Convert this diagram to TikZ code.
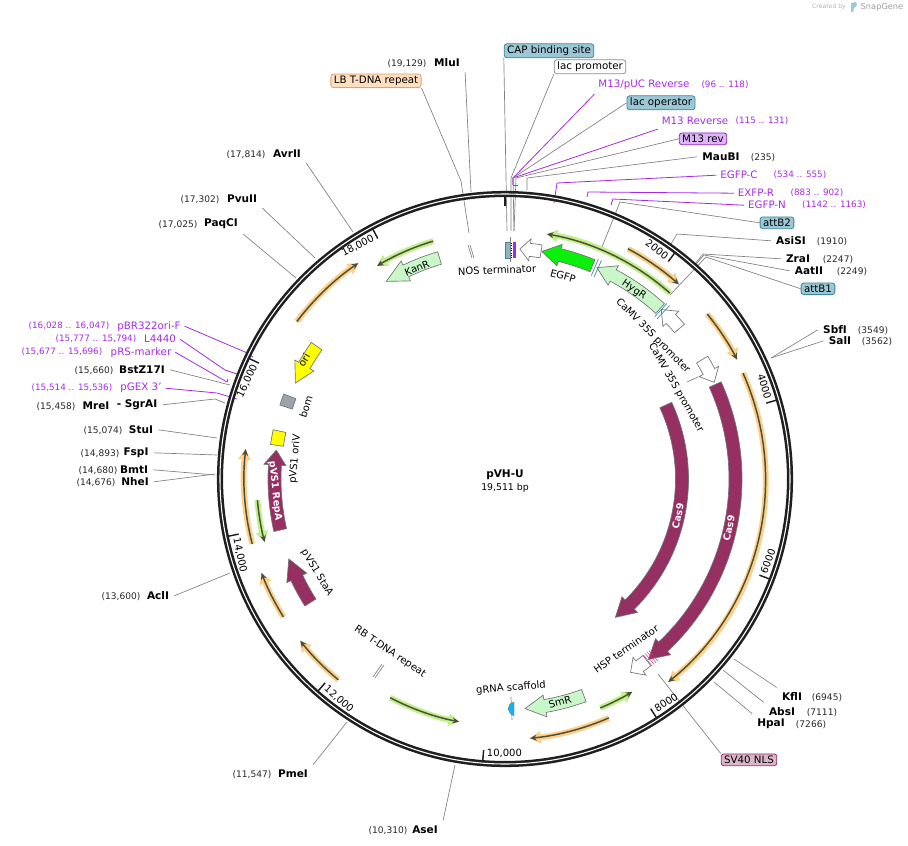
\documentclass[tikz,border=0pt]{standalone}
\usepackage{fontspec}
\setmainfont{DejaVu Sans}
\usepackage{xcolor}
\usetikzlibrary{arrows.meta}
\definecolor{primer}{HTML}{A52AE8}
\definecolor{leadgray}{HTML}{808080}
\definecolor{tealbox}{HTML}{9CC8D6}
\definecolor{tealedge}{HTML}{3F8498}
\definecolor{cas}{HTML}{962F62}
\definecolor{resist}{HTML}{C9F7C9}
\definecolor{egfpgreen}{HTML}{0CEE0C}
\definecolor{orihl}{HTML}{FFFF00}
\definecolor{orfamber}{HTML}{FDD08A}
\definecolor{orfgreen}{HTML}{BFF08C}
\definecolor{orfdark}{HTML}{4E4E34}
\definecolor{bomgray}{HTML}{9AA4AE}
\definecolor{grnablue}{HTML}{14B4F0}
\tikzset{
  sitename/.style={font=\fontsize{7.9}{9}\selectfont\bfseries, inner sep=1pt, outer sep=3pt, yshift=-.6pt},
  sitepos/.style={font=\fontsize{6.8}{9}\selectfont, text=black!85, inner sep=1pt, yshift=-.9pt},
  primername/.style={font=\fontsize{7.7}{9}\selectfont, text=primer, inner sep=1pt, outer sep=2pt, yshift=-.9pt},
  primerpos/.style={font=\fontsize{6.6}{9}\selectfont, text=primer, inner sep=1pt, yshift=-.9pt},
  featbox/.style={draw, rounded corners=2pt, font=\fontsize{7.7}{9}\selectfont, inner ysep=1.5pt, inner xsep=2.2pt, line width=.6pt, yshift=-.6pt},
  featlabel/.style={font=\fontsize{7.5}{9}\selectfont, inner sep=1pt},
  leader/.style={draw=leadgray, line width=.5pt},
  primerline/.style={draw=primer, line width=.6pt},
  blockarrow/.style={draw=black!55, line width=.5pt},
}
\begin{document}
\begin{tikzpicture}[x=.75pt, y=-.75pt]
    \useasboundingbox (0,0) rectangle (908,846);

    % Watermark
    \node[font=\fontsize{4.6}{6}\selectfont, text=black!30, inner sep=0pt] (wmcreated) at (829,7) {Created by};
    \node[font=\fontsize{6.2}{8}\selectfont, text=black!38, inner sep=0pt] (wmsnap) at (882,7) {SnapGene};
    \fill[tealbox] (851,3) -- (856,2) .. controls (858,5) and (856,8) .. (854,8) -- (853,12) -- (851,12) -- cycle;

    % Restriction sites
    \foreach \nm/\x/\y/\px/\pos/\anc/\kx/\ky/\ex/\ey in {%
        MluI/447/62/407/{(19,129)}/south east/471/192/471/192,
        AvrII/287/153/246/{(17,814)}/south east/353/232/353/232,
        PvuII/242/198/200/{(17,302)}/south east/315/258/315/258,
        PaqCI/221/223/178/{(17,025)}/south east/296/278/296/278,
        BstZ17I/142/369/94/{(15,660)}/east/230/385/230/385,
        StuI/141/429/103/{(15,074)}/east/217/438/217/438,
        FspI/136/452/100/{(14,893)}/east/217/455/217/455,
        BmtI/134/469/98/{(14,680)}/east/203/474/215/475,
        NheI/135/481/96/{(14,676)}/east/215/474/215/474,
        AclI/158/595/121/{(13,600)}/east/230/573/230/573,
        PmeI/293/773/252/{(11,547)}/north east/347/722/347/722,
        AseI/425/829/388/{(10,310)}/north east/455/765/455/765,
        MauBI/721/156/763/{(235)}/west/527/178/527/190,
        AsiSI/791/240/832/{(1910)}/west/677/234/671/244,
        ZraI/798/258/838/{(2247)}/west/703/254/695/264,
        AatII/809/270/852/{(2249)}/west/704/255/696/264,
        SbfI/835/329/873/{(3549)}/west/771/358/771/358,
        SalI/840/340/877/{(3562)}/west/771/358/771/358,
        KflI/792/696/827/{(6945)}/north west/734/659/734/659,
        AbsI/782/711/822/{(7111)}/north west/723/670/723/670,
        HpaI/771/723/811/{(7266)}/north west/714/682/714/682} {
      \node[sitename] (\nm) at (\x,\y) {\nm};
      \node[sitepos] (\nm-pos) at (\px,\y) {\pos};
      \coordinate (\nm-knee) at (\kx,\ky);
      \coordinate (\nm-end) at (\ex,\ey);
      \draw[leader] (\nm.\anc) -- (\nm-knee) -- (\nm-end);
    }
    \node[sitename] (MreI) at (96,405) {MreI};
    \node[sitepos] (MreI-pos) at (56,405) {(15,458)};
    \node[sitename] (SgrAI) at (137,404) {- SgrAI};
    \coordinate (SgrAI-knee) at (215,399);
    \coordinate (SgrAI-end) at (225,403);
    \draw[leader] (SgrAI.east) -- (SgrAI-knee) -- (SgrAI-end);

    % Primers
    \foreach \id/\txt/\x/\y/\px/\pos/\anc/\kx/\ky/\ex/\ey in {%
        pucrev/{M13/pUC Reverse}/644/84/725/{(96 .. 118)}/south west/513/178/513/185,
        mrevp/{M13 Reverse}/695/120/762/{(115 .. 131)}/south west/513/178/513/185,
        egfpc/EGFP-C/739/174/800/{(534 .. 555)}/west/557/183/554/203,
        exfpr/EXFP-R/756/192/817/{(883 .. 902)}/west/588/192/587/197,
        egfpn/EGFP-N/767/204/834/{(1142 .. 1163)}/west/613/199/611/205,
        pgex/{pGEX 3'}/141/387/72/{(15,514 .. 15,536)}/east/217/393/237/399,
        prs/pRS-marker/141/351/62/{(15,677 .. 15,696)}/east/227/382/228/379,
        lfour/L4440/160/338/96/{(15,777 .. 15,794)}/east/225/370/237/374,
        pbr/pBR322ori-F/149/325/69/{(16,028 .. 16,047)}/east/245/352/253/357} {
      \node[primername] (\id) at (\x,\y) {\txt};
      \node[primerpos] (\id-pos) at (\px,\y) {\pos};
      \coordinate (\id-knee) at (\kx,\ky);
      \coordinate (\id-end) at (\ex,\ey);
      \draw[primerline] (\id.\anc) -- (\id-knee) -- (\id-end);
    }
    \coordinate (hook) at (518,185);
    \draw[primerline] (pucrev-end) -- (hook);

    % Boxed features and their leaders
    \node[featbox, fill=tealbox, draw=tealedge] (cap) at (549,50) {CAP binding site};
    \node[featbox, fill=white, draw=black!45] (lacprom) at (590,66) {lac promoter};
    \node[featbox, fill=tealbox, draw=tealedge] (lacop) at (661,102) {lac operator};
    \node[featbox, fill=primer!35, draw=primer!85!black] (mrev) at (703,138) {M13 rev};
    \node[featbox, fill=tealbox, draw=tealedge] (attbtwo) at (777,222) {attB2};
    \node[featbox, fill=tealbox, draw=tealedge] (attbone) at (818,288) {attB1};
    \node[featbox, fill=orange!25, draw=brown!70] (lbrepeat) at (376,80) {LB T-DNA repeat};
    \node[featbox, fill=cas!35, draw=cas] (svnls) at (749,759) {SV40 NLS};
    \coordinate (capend) at (507,231);
    \coordinate (lackneeA) at (511,178);
    \coordinate (lacendA) at (511,231);
    \coordinate (lackneeB) at (513,178);
    \coordinate (lacendB) at (514,231);
    \coordinate (mrevknee) at (516,178);
    \coordinate (attbtwoknee) at (620,202);
    \coordinate (attbtwoend) at (602,247);
    \coordinate (attboneknee) at (706,257);
    \coordinate (attboneend) at (670,295);
    \coordinate (lbknee) at (461,181);
    \coordinate (lbend) at (469,233);
    \coordinate (svend) at (658,674);
    \draw[leader] (cap.south west) -- (capend);
    \draw[leader] (lacprom.south west) -- (lackneeA) -- (lacendA);
    \draw[leader] (lacop.west) -- (lackneeB) -- (lacendB);
    \draw[leader] (mrev.west) -- (mrevknee) -- (lacendB);
    \draw[leader] (attbtwo.west) -- (attbtwoknee) -- (attbtwoend);
    \draw[leader] (attbone.west) -- (attboneknee) -- (attboneend);
    \draw[leader] (lbrepeat.south east) -- (lbknee) -- (lbend);
    \draw[leader] (svnls.north west) -- (svend);

    % Plasmid ring, ticks and everything that follows the circle
    \begin{scope}[shift={(505,479)}, y=.75pt]
      \draw[line width=4.6pt, black!88] (0,0) circle (285);
      \draw[line width=.8pt, white] (0,0) circle (285);
      \draw[line width=2pt, black!88] (90:283) -- (90:273);

      \foreach \kb/\txt/\rot/\anc in {%
          2/2000/-36.9/east, 4/4000/-73.8/east, 6/6000/69.3/west,
          8/8000/32.4/west, 10/{10,000}/0/west, 12/{12,000}/-41.4/west,
          14/{14,000}/-78.2/west, 16/{16,000}/64.8/east, 18/{18,000}/27.9/east} {
        \pgfmathsetmacro{\ang}{90-\kb*18.4511}
        \draw[line width=1.1pt, black!88] (\ang:283) -- (\ang:272);
        \node[featlabel, rotate=\rot, anchor=\anc, inner sep=2.5pt] (tick\kb) at (\ang:275) {\txt};
      }

      % Thin open reading frames
      \foreach \r/\st/\en/\col in {%
          248.5/48.4/80.3/orfgreen, 248.5/106.8/121/orfgreen, 261/142.9/124.2/orfamber,
          261/61.9/48.2/orfamber, 261/39.2/27.2/orfamber, 260.5/24/-51.2/orfamber,
          260.5/-66.5/-84.5/orfamber, 248/-67.4/-59.1/orfgreen, 247/-117.7/-100.7/orfgreen,
          261/-129.7/-141.7/orfamber, 261/-148.1/-158.9/orfamber, 261/-165.6/-186.6/orfamber,
          248.5/-175.1/-165.3/orfgreen} {
        \draw[\col, line width=4.4pt, -{Triangle[length=8pt,width=9pt]}] (\st:\r) arc[start angle=\st, end angle=\en, radius=\r];
        \draw[orfdark, line width=1.1pt, -{Stealth[length=5pt,width=4.5pt]}] (\st:\r) arc[start angle=\st, end angle=\en, radius=\r];
      }

      % Block arrows
      \foreach \ri/\ro/\ta/\hb/\tp/\fc in {%
          224/237/106.5/115.5/121/resist, 224/237/67.7/76.3/80.8/egfpgreen,
          224/237/47.7/62/66.5/resist, 224/237/40.8/44/47.3/white,
          224/237/81/83.8/86.3/white, 224/237/31.2/27.8/24.8/white,
          224/237/24.2/-46.7/-51.5/cas, 170.5/183.5/24.7/-45.2/-51.4/cas,
          224/237/-70/-80/-85/resist, 224/237/-52/-54.3/-57/white,
          224/237/144.8/150.5/155.4/orihl, 224/237/-167.2/-183.5/-187.2/cas,
          224/237/-147.6/-154.6/-159.7/cas} {
        \pgfmathsetmacro{\rf}{\ro+4.5}
        \pgfmathsetmacro{\rg}{\ri-4.5}
        \pgfmathsetmacro{\rmid}{(\ro+\ri)/2}
        \draw[blockarrow, fill=\fc] (\ta:\ro) arc[start angle=\ta, end angle=\hb, radius=\ro] -- (\hb:\rf) -- (\tp:\rmid) -- (\hb:\rg) -- (\hb:\ri) arc[start angle=\hb, end angle=\ta, radius=\ri] -- cycle;
      }

      % Short boxed features
      \foreach \ta/\tb/\fc in {159/161.8/bomgray, 168/171.6/orihl} {
        \draw[blockarrow, fill=\fc] (\ta:237) arc[start angle=\ta, end angle=\tb, radius=237] -- (\tb:224) arc[start angle=\tb, end angle=\ta, radius=224] -- cycle;
      }

      % Site markers at the ends of the arrows
      \foreach \ang in {67,66.2,47.3,46.5} {
        \draw[tealedge, line width=.5pt] (\ang:221) -- (\ang:239);
      }
      \foreach \ang in {-51.8,-51.2,-50.6,-50} {
        \draw[magenta!55!cas, line width=.35pt] (\ang:224) -- (\ang:238);
      }
    \end{scope}

    % Features drawn straight
    \draw[draw=tealedge, fill=tealbox!75!tealedge] (505,242) rectangle (510,258);
    \fill[primer] (513,242) rectangle (516,258);
    \draw[line width=.8pt, densely dotted] (511.5,243) -- (511.5,258);
    \draw[leader] (510,237) -- (510,262);
    \draw[leader] (468,245) -- (472,258);
    \draw[leader] (470,245) -- (474,258);
    \draw[leader] (373,677) -- (382,664);
    \draw[leader] (375,678) -- (384,665);
    \draw[leader] (511,697) -- (512,720);
    \draw[draw=black!55, fill=grnablue, line width=.3pt] (514,702) -- (514,716) -- (510,713) -- (508,709) -- (510,704) -- cycle;

    % Texts along the features
    \node[featlabel, rotate=22] (kanlabel) at (417,268) {KanR};
    \node[featlabel, rotate=-34] (hyglabel) at (634,290) {HygR};
    \node[featlabel, rotate=15] (smrlabel) at (560,702) {SmR};
    \node[featlabel, rotate=60] (orilabel) at (304,360) {ori};
    \node[featlabel, rotate=78, text=white, font=\fontsize{7.2}{9}\selectfont\bfseries] (casone) at (678,516) {Cas9};
    \node[featlabel, rotate=78, text=white, font=\fontsize{7.2}{9}\selectfont\bfseries] (castwo) at (729,528) {Cas9};
    \node[featlabel, rotate=-84, text=white, font=\fontsize{7.2}{9}\selectfont\bfseries] (repa) at (275,491) {pVS1 RepA};
    \node[featlabel, rotate=2] (noslabel) at (497,270) {NOS terminator};
    \node[featlabel, rotate=-15] (egfplabel) at (563,276) {EGFP};
    \node[featlabel, rotate=-45] (camvone) at (653,336) {CaMV 35S promoter};
    \node[featlabel, rotate=-60] (camvtwo) at (676,388) {CaMV 35S promoter};
    \node[featlabel, rotate=-34] (rblabel) at (390,652) {RB T-DNA repeat};
    \node[featlabel, rotate=5] (grna) at (511,688) {gRNA scaffold};
    \node[featlabel, rotate=35] (hsp) at (626,649) {HSP terminator};
    \node[featlabel, rotate=72] (bomlabel) at (306,407) {bom};
    \node[featlabel, rotate=85] (orivlabel) at (295,459) {pVS1 oriV};
    \node[featlabel, rotate=-59] (stalabel) at (317,573) {pVS1 StaA};
    \coordinate (camvtip) at (698,377);
    \coordinate (camvfoot) at (687,382);
    \draw[leader] (camvfoot) -- (camvtip);

    % Centre
    \node[font=\fontsize{7.9}{9}\selectfont\bfseries, inner sep=0pt] (plasmid) at (505,475) {pVH-U};
    \node[font=\fontsize{7}{9}\selectfont, inner sep=0pt] (size) at (505,488) {19,511 bp};
\end{tikzpicture}
\end{document}
